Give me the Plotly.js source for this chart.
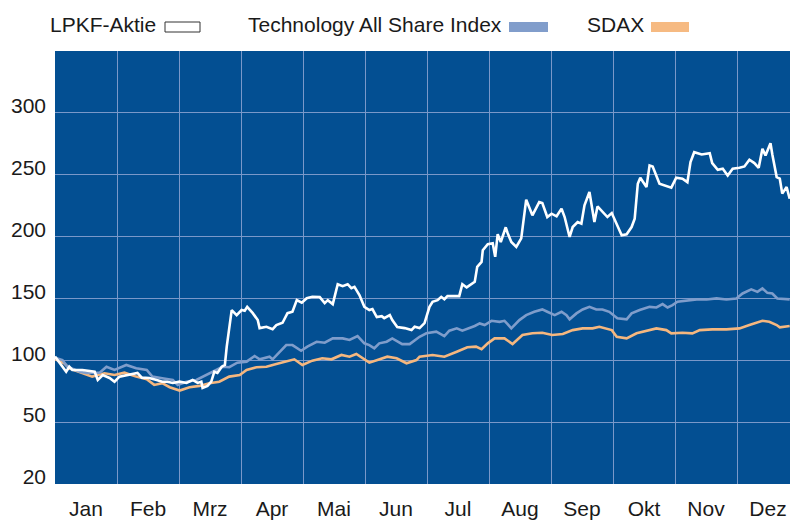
<!DOCTYPE html>
<html>
<head>
<meta charset="utf-8">
<script src="https://cdn.plot.ly/plotly-3.0.1.min.js"></script>
<style>html,body{margin:0;padding:0;background:#fff;}#chart{width:790px;height:521px;}</style>
</head>
<body>
<div id="chart"></div>
<script>
// x positions are in months from 1 January (0 = start of Jan, 12 = end of Dec)
var monthLabels = ["Jan","Feb","Mrz","Apr","Mai","Jun","Jul","Aug","Sep","Okt","Nov","Dez"];
var yTickVals = [0, 50, 100, 150, 200, 250, 300];
var yTickText = ["20", "50", "100", "150", "200", "250", "300"];

var lpkfX = [0.00,0.18,0.23,0.28,0.44,0.64,0.69,0.77,0.88,0.96,1.04,1.15,1.33,1.40,1.52,1.64,1.73,1.81,1.90,2.01,2.12,2.22,2.30,2.36,2.38,2.46,2.52,2.57,2.62,2.69,2.74,2.77,2.85,2.93,3.01,3.06,3.10,3.19,3.27,3.30,3.41,3.51,3.57,3.67,3.75,3.83,3.90,3.98,4.06,4.15,4.27,4.35,4.40,4.48,4.56,4.64,4.72,4.78,4.83,4.91,4.99,5.07,5.12,5.19,5.27,5.31,5.40,5.44,5.52,5.64,5.75,5.80,5.88,5.96,6.04,6.09,6.17,6.23,6.28,6.33,6.52,6.57,6.64,6.77,6.81,6.88,6.90,6.98,7.04,7.06,7.10,7.14,7.19,7.27,7.30,7.36,7.44,7.52,7.60,7.70,7.81,7.86,7.94,8.01,8.09,8.17,8.22,8.30,8.35,8.43,8.49,8.54,8.62,8.70,8.75,8.83,8.91,8.98,9.06,9.14,9.22,9.30,9.35,9.40,9.44,9.54,9.59,9.64,9.75,9.86,9.94,10.02,10.12,10.20,10.25,10.31,10.43,10.56,10.60,10.69,10.77,10.85,10.93,11.04,11.12,11.20,11.28,11.35,11.41,11.46,11.54,11.57,11.64,11.69,11.73,11.80,11.85];
var lpkfY = [103,90.8,94.8,92.2,92.2,90.8,84.1,88.1,85.7,82.7,86.8,88.1,89.8,86.0,85.7,84.1,82.7,82.7,81.7,82.7,81.7,84.1,81.7,82.7,77.7,79.3,82.7,90.8,89.8,94.8,96.2,111.0,140.6,136.5,140.6,140.0,143.2,138.1,132.5,126.0,127.1,125.2,128.5,130.3,138.1,139.2,148.6,146.5,150.2,151.3,151.1,146.2,148.6,145.4,161.5,159.9,161.5,158.3,159.4,152.7,143.2,140.6,141.4,134.9,135.7,134.1,136.5,132.5,126.9,126.0,124.4,127.1,126.0,130.1,143.2,147.3,148.6,151.3,149.4,151.9,151.9,161.5,158.9,163.4,175.5,179.5,189.0,193.8,194.8,194.6,183.6,201.9,195.6,207.5,202.9,195.6,191.6,198.6,229.8,217.2,227.9,227.1,215.8,218.5,216.4,222.6,215.8,199.7,207.7,211.8,210.5,225.2,236.0,211.8,224.4,219.8,215.8,219.0,210.5,201.1,201.9,207.7,214.5,242.7,247.6,240.0,257.5,256.7,242.7,240.6,239.5,247.6,246.8,244.0,260.2,268.2,266.4,267.4,259.4,254.0,254.8,249.4,254.8,255.6,256.7,262.1,259.4,255.6,271.0,265.6,275.5,266.4,248.1,246.8,234.7,240.0,230.6];

var techX = [0.00,0.12,0.20,0.40,0.51,0.72,0.83,0.96,1.15,1.31,1.48,1.57,1.73,1.90,1.98,2.12,2.28,2.38,2.54,2.70,2.81,2.94,3.09,3.22,3.30,3.46,3.51,3.62,3.73,3.83,3.97,4.07,4.22,4.35,4.48,4.64,4.75,4.88,4.99,5.07,5.15,5.23,5.35,5.44,5.60,5.72,5.88,5.99,6.15,6.28,6.36,6.48,6.57,6.77,6.85,6.93,7.04,7.17,7.25,7.30,7.36,7.49,7.60,7.73,7.86,7.94,8.06,8.17,8.25,8.30,8.41,8.51,8.62,8.73,8.83,8.94,9.02,9.07,9.22,9.30,9.43,9.59,9.70,9.80,9.88,9.96,10.04,10.19,10.35,10.51,10.67,10.83,10.99,11.09,11.23,11.33,11.41,11.49,11.57,11.65,11.85];
var techY = [102,100.2,94.8,90.8,89.8,90.0,94.8,92.2,96.2,93.5,92.2,86.8,85.5,84.1,80.1,82.7,84.1,86.8,90.8,94.8,94.4,98.1,98.9,103.5,100.8,102.9,100.8,106.9,112.3,112.3,107.7,111.0,115.0,114.2,117.7,117.7,116.4,119.6,113.7,112.3,109.7,113.7,115.0,117.7,113.1,113.1,119.0,121.8,123.1,119.6,123.9,125.8,123.9,127.7,129.8,128.5,131.9,131.1,131.9,129.3,125.8,132.5,136.5,139.2,141.1,139.2,136.5,139.2,136.5,133.1,137.9,141.1,143.2,141.1,141.1,139.2,135.7,133.9,133.1,137.9,140.6,143.2,142.7,145.4,142.7,144.6,147.3,148.1,149.2,149.2,150.0,149.2,150.0,154.0,157.3,155.3,158.1,154.5,154.0,150.0,149.2];

var sdaxX = [0.00,0.15,0.23,0.44,0.60,0.80,0.96,1.12,1.31,1.48,1.60,1.73,1.85,2.01,2.17,2.33,2.49,2.65,2.81,2.98,3.09,3.25,3.41,3.57,3.73,3.86,3.99,4.15,4.31,4.46,4.62,4.75,4.86,4.99,5.07,5.20,5.36,5.51,5.67,5.83,5.88,6.09,6.28,6.48,6.65,6.79,6.88,6.98,7.09,7.25,7.38,7.54,7.70,7.86,8.02,8.19,8.35,8.51,8.67,8.78,8.98,9.06,9.22,9.38,9.54,9.70,9.86,9.94,10.12,10.28,10.40,10.60,10.83,11.04,11.20,11.31,11.41,11.52,11.64,11.69,11.85];
var sdaxY = [101,97.6,93.5,89.5,86.8,89.5,88.1,90.0,86.8,84.7,80.1,81.5,78.2,75.5,78.2,79.3,81.5,82.7,86.8,88.1,92.2,94.4,94.8,97.0,98.9,100.8,96.2,99.7,101.6,100.8,104.3,102.9,105.1,100.8,98.1,100.2,102.9,101.6,97.6,100.2,102.9,104.3,102.9,106.9,110.5,111.0,108.9,113.7,117.7,117.7,113.1,120.4,121.8,122.3,120.4,121.2,124.4,125.8,125.8,127.1,124.4,119.0,117.7,121.8,123.9,125.8,124.4,121.8,122.3,121.8,124.4,125.0,125.0,125.8,128.5,130.3,131.9,131.1,128.5,126.6,127.7];

var W = 790, H = 521;
var M = {l: 55, r: 0, t: 51, b: 37};
function px(x) { return (x - M.l) / (W - M.l - M.r); }
function py(y) { return (H - M.b - y) / (H - M.t - M.b); }

var data = [
  {x: sdaxX, y: sdaxY, type: 'scatter', mode: 'lines', line: {color: '#f5b77f', width: 2.6}, showlegend: false, hoverinfo: 'skip'},
  {x: techX, y: techY, type: 'scatter', mode: 'lines', line: {color: '#7f9dcb', width: 2.6}, showlegend: false, hoverinfo: 'skip'},
  {x: lpkfX, y: lpkfY, type: 'scatter', mode: 'lines', line: {color: '#ffffff', width: 2.6}, showlegend: false, hoverinfo: 'skip'}
];

var font = {family: 'Liberation Sans, Arial, sans-serif', size: 21, color: '#1a1a1a'};
var legendItems = [
  {text: 'LPKF-Aktie', right: 158, sx0: 165, sx1: 200, fill: '#ffffff', line: '#333333'},
  {text: 'Technology All Share Index', right: 504, sx0: 509, sx1: 548, fill: '#819dcb', line: 'rgba(0,0,0,0)'},
  {text: 'SDAX', right: 646, sx0: 651, sx1: 689, fill: '#f6ba82', line: 'rgba(0,0,0,0)'}
];
var annotations = legendItems.map(function (it) {
  return {text: it.text, xref: 'paper', yref: 'paper', x: px(it.right), y: py(25), xanchor: 'right', yanchor: 'middle', showarrow: false, font: font};
});
var shapes = legendItems.map(function (it) {
  return {type: 'rect', xref: 'paper', yref: 'paper', x0: px(it.sx0), x1: px(it.sx1), y0: py(32), y1: py(22), fillcolor: it.fill, line: {color: it.line, width: 1}};
});

var layout = {
  width: W, height: H,
  margin: M,
  paper_bgcolor: '#ffffff',
  plot_bgcolor: '#034f92',
  font: font,
  xaxis: {
    range: [0, (W - M.l - M.r) / 62],
    tickmode: 'array',
    tickvals: monthLabels.map(function (_, i) { return i + 0.5; }),
    ticktext: monthLabels,
    showgrid: false, zeroline: false, showline: false, ticks: '',
    ticklabelstandoff: 10,
    tickfont: font,
    minor: {tickmode: 'linear', tick0: 0, dtick: 1, showgrid: true, gridcolor: '#7a98c9', gridwidth: 1, ticks: ''},
    fixedrange: true
  },
  yaxis: {
    range: [0, 350],
    tickmode: 'array',
    tickvals: yTickVals,
    ticktext: yTickText,
    showgrid: true, gridcolor: '#7a98c9', gridwidth: 1,
    zeroline: false, showline: false, ticks: '',
    ticklabelstandoff: 8,
    ticklabelshift: -7,
    tickfont: font,
    fixedrange: true
  },
  annotations: annotations,
  shapes: shapes
};

Plotly.newPlot('chart', data, layout, {displayModeBar: false, staticPlot: true});
</script>
</body>
</html>
